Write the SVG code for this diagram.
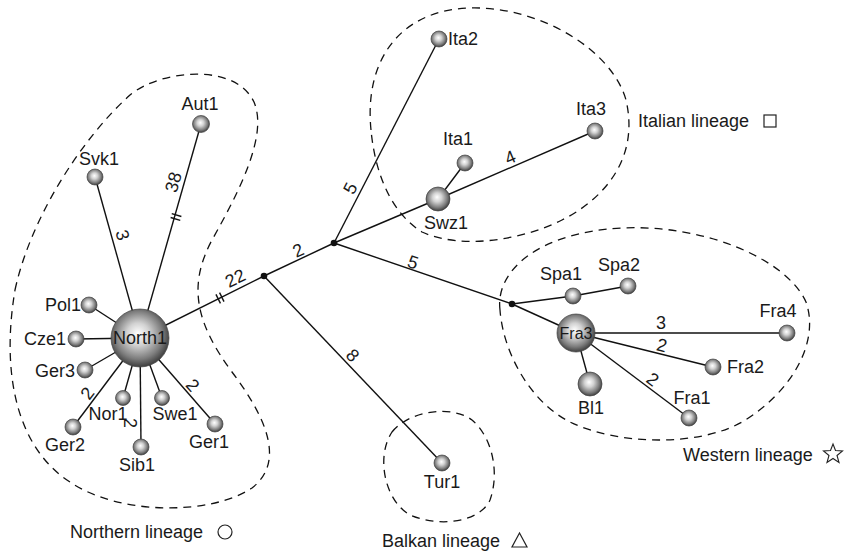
<svg xmlns="http://www.w3.org/2000/svg" width="847" height="554" viewBox="0 0 847 554">
<defs>
<radialGradient id="ball" cx="0.48" cy="0.46" r="0.55" fx="0.46" fy="0.42">
<stop offset="0" stop-color="#ffffff"/>
<stop offset="0.35" stop-color="#d2d2d2"/>
<stop offset="0.75" stop-color="#7c7c7c"/>
<stop offset="1" stop-color="#3a3a3a"/>
</radialGradient>
<style>
text{font-family:"Liberation Sans",Arial,sans-serif;font-size:18px;fill:#1a1a1a}
.edge{stroke:#111;stroke-width:1.4;fill:none}
.tick{stroke:#111;stroke-width:1.4}
.bound{stroke:#111;stroke-width:1.3;fill:none;stroke-dasharray:8 6}
.node{fill:url(#ball);stroke:#444;stroke-width:0.7}
.jn{fill:#111}
.m{text-anchor:middle}
.e{text-anchor:end}
</style>
</defs>
<rect width="847" height="554" fill="#fff"/>

<g id="boundaries">
<path class="bound" d="M 15,290 C 30,220 80,140 130,95 C 160,70 235,62 254,102 C 268,135 240,190 212,240 C 188,285 195,322 232,372 C 262,412 288,460 252,488 C 212,515 120,516 70,482 C 20,450 0,380 15,290 Z"/>
<path class="bound" d="M 371,130 C 364,60 400,10 470,8 C 540,6 612,50 626,100 C 640,160 602,200 562,220 C 522,240 462,250 422,232 C 390,212 375,172 371,130 Z"/>
<path class="bound" d="M 500,310 C 495,270 540,232 622,228 C 702,224 786,258 806,302 C 820,342 792,392 742,422 C 700,446 620,446 570,422 C 530,402 503,352 500,310 Z"/>
<path class="bound" d="M 392,432 C 410,410 452,405 472,420 C 492,437 500,472 490,500 C 480,522 440,528 410,515 C 384,500 376,456 392,432 Z"/>
</g>

<g id="connectors">
<line class="edge" x1="140" y1="338" x2="201" y2="124"/>
<line class="edge" x1="140" y1="338" x2="95" y2="177"/>
<line class="edge" x1="140" y1="338" x2="89" y2="305"/>
<line class="edge" x1="140" y1="338" x2="76" y2="339"/>
<line class="edge" x1="140" y1="338" x2="85" y2="370"/>
<line class="edge" x1="140" y1="338" x2="73" y2="427"/>
<line class="edge" x1="140" y1="338" x2="123" y2="398"/>
<line class="edge" x1="140" y1="338" x2="141" y2="447"/>
<line class="edge" x1="140" y1="338" x2="162" y2="398"/>
<line class="edge" x1="140" y1="338" x2="215" y2="424"/>
<line class="edge" x1="140" y1="338" x2="264" y2="276"/>
<line class="edge" x1="264" y1="276" x2="334" y2="243"/>
<line class="edge" x1="264" y1="276" x2="442" y2="463"/>
<line class="edge" x1="334" y1="243" x2="439" y2="39"/>
<line class="edge" x1="334" y1="243" x2="438" y2="199"/>
<line class="edge" x1="438" y1="199" x2="595" y2="131"/>
<line class="edge" x1="438" y1="199" x2="465" y2="163"/>
<line class="edge" x1="334" y1="243" x2="512" y2="304"/>
<line class="edge" x1="512" y1="304" x2="573" y2="296"/>
<line class="edge" x1="573" y1="296" x2="628" y2="286"/>
<line class="edge" x1="512" y1="304" x2="576" y2="333"/>
<line class="edge" x1="576" y1="333" x2="787" y2="333"/>
<line class="edge" x1="576" y1="333" x2="713" y2="367"/>
<line class="edge" x1="576" y1="333" x2="689" y2="418"/>
<line class="edge" x1="576" y1="333" x2="590" y2="384"/>
<g transform="translate(176,217) rotate(-74)"><line class="tick" x1="-2" y1="-5" x2="-2" y2="5"/><line class="tick" x1="2" y1="-5" x2="2" y2="5"/></g>
<g transform="translate(220,298) rotate(-26.6)"><line class="tick" x1="-2" y1="-5" x2="-2" y2="5"/><line class="tick" x1="2" y1="-5" x2="2" y2="5"/></g>
<circle class="jn" cx="264" cy="276" r="3.3"/>
<circle class="jn" cx="334" cy="243" r="3.3"/>
<circle class="jn" cx="512" cy="304" r="3.3"/>
<text class="m" transform="translate(123,235) rotate(74)" y="6.5">3</text>
<text class="m" transform="translate(173,182) rotate(-74)" y="6.5">38</text>
<text class="m" transform="translate(235,278) rotate(-26.6)" y="6.5">22</text>
<text class="m" transform="translate(298,250) rotate(-25)" y="6.5">2</text>
<text class="m" transform="translate(353,355) rotate(46)" y="6.5">8</text>
<text class="m" transform="translate(350,188) rotate(-63)" y="6.5">5</text>
<text class="m" transform="translate(413,262) rotate(19)" y="6.5">5</text>
<text class="m" transform="translate(510,157) rotate(-23)" y="6.5">4</text>
<text class="m" transform="translate(661,322)" y="6.5">3</text>
<text class="m" transform="translate(662,345) rotate(14)" y="6.5">2</text>
<text class="m" transform="translate(653,379) rotate(37)" y="6.5">2</text>
<text class="m" transform="translate(87,393) rotate(-53)" y="6.5">2</text>
<text class="m" transform="translate(130,423) rotate(90)" y="6.5">2</text>
<text class="m" transform="translate(193,385) rotate(49)" y="6.5">2</text>
</g>

<g id="North1"><circle class="node" cx="140" cy="338" r="29"/><text class="m" x="140" y="344">North1</text></g>
<g id="Aut1"><circle class="node" cx="201" cy="124" r="8.5"/><text class="m" x="200" y="110">Aut1</text></g>
<g id="Svk1"><circle class="node" cx="95" cy="177" r="8"/><text class="m" x="99" y="165">Svk1</text></g>
<g id="Pol1"><circle class="node" cx="89" cy="305" r="8"/><text class="e" x="81" y="311">Pol1</text></g>
<g id="Cze1"><circle class="node" cx="76" cy="339" r="8"/><text class="e" x="66" y="345">Cze1</text></g>
<g id="Ger3"><circle class="node" cx="85" cy="370" r="8"/><text class="e" x="75" y="377">Ger3</text></g>
<g id="Ger2"><circle class="node" cx="73" cy="427" r="8"/><text class="m" x="65" y="451">Ger2</text></g>
<g id="Nor1"><circle class="node" cx="123" cy="398" r="7.5"/><text class="m" x="108" y="420">Nor1</text></g>
<g id="Sib1"><circle class="node" cx="141" cy="447" r="8"/><text class="m" x="137" y="471">Sib1</text></g>
<g id="Swe1"><circle class="node" cx="162" cy="398" r="7.5"/><text class="m" x="175" y="420">Swe1</text></g>
<g id="Ger1"><circle class="node" cx="215" cy="424" r="8"/><text class="m" x="209" y="448">Ger1</text></g>
<g id="Ita2"><circle class="node" cx="439" cy="39" r="8"/><text x="448" y="45">Ita2</text></g>
<g id="Ita1"><circle class="node" cx="465" cy="163" r="8"/><text class="m" x="458" y="145">Ita1</text></g>
<g id="Ita3"><circle class="node" cx="595" cy="131" r="8"/><text class="m" x="591" y="115">Ita3</text></g>
<g id="Swz1"><circle class="node" cx="438" cy="199" r="12"/><text class="m" x="446" y="229">Swz1</text></g>
<g id="Spa1"><circle class="node" cx="573" cy="296" r="8"/><text class="m" x="561" y="280">Spa1</text></g>
<g id="Spa2"><circle class="node" cx="628" cy="286" r="8"/><text class="m" x="619" y="271">Spa2</text></g>
<g id="Fra3"><circle class="node" cx="576" cy="333" r="19"/><text class="m" x="576" y="339" style="font-size:16px">Fra3</text></g>
<g id="Fra4"><circle class="node" cx="787" cy="333" r="8"/><text class="m" x="778" y="317">Fra4</text></g>
<g id="Fra2"><circle class="node" cx="713" cy="367" r="8"/><text x="727" y="373">Fra2</text></g>
<g id="Fra1"><circle class="node" cx="689" cy="418" r="8"/><text class="m" x="692" y="404">Fra1</text></g>
<g id="Bl1"><circle class="node" cx="590" cy="384" r="12"/><text class="m" x="591" y="414">Bl1</text></g>
<g id="Tur1"><circle class="node" cx="442" cy="463" r="8"/><text class="m" x="442" y="488">Tur1</text></g>

<g id="legend">
<text x="70" y="538">Northern lineage</text>
<circle cx="225" cy="532" r="7" fill="none" stroke="#222" stroke-width="1.2"/>
<text x="382" y="547">Balkan lineage</text>
<polygon points="512,547 527,547 519.5,533" fill="none" stroke="#222" stroke-width="1.2"/>
<text x="638" y="127">Italian lineage</text>
<rect x="764" y="115" width="12" height="12" fill="none" stroke="#222" stroke-width="1.2"/>
<text x="683" y="461">Western lineage</text>
<polygon points="833,444 835.5,450.5 842.5,451 837,455.5 839,462.5 833,458.5 827,462.5 829,455.5 823.5,451 830.5,450.5" fill="none" stroke="#222" stroke-width="1.1"/>
</g>
</svg>
